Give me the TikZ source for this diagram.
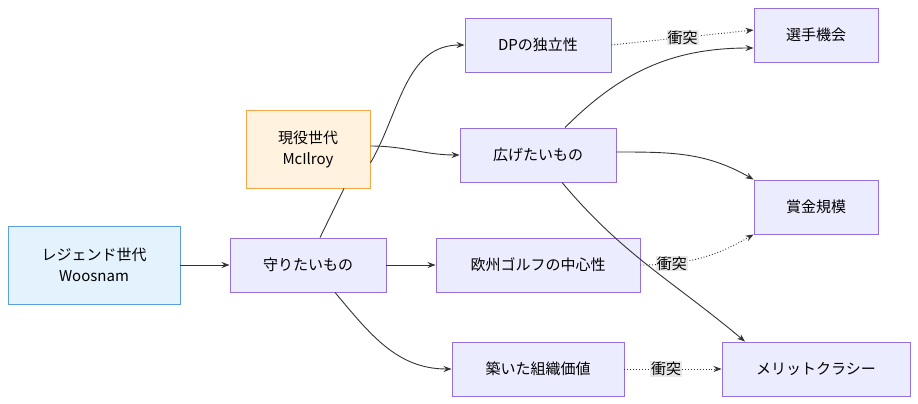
\documentclass[tikz,border=0pt]{standalone}
\usepackage{fontspec}
\setmainfont{Noto Sans CJK JP}
\usetikzlibrary{arrows.meta}
\definecolor{boxfill}{HTML}{ECECFF}
\definecolor{boxline}{HTML}{9370DB}
\definecolor{oldfill}{HTML}{E3F2FD}
\definecolor{oldline}{HTML}{5C9FE0}
\definecolor{newfill}{HTML}{FFF3E0}
\definecolor{newline}{HTML}{F5A54A}
\definecolor{edgec}{HTML}{333333}
\tikzset{
  box/.style={draw=boxline, fill=boxfill, line width=0.9pt, minimum height=54pt, align=center, font=\fontsize{15}{21}\selectfont},
  flow/.style={draw=edgec, line width=0.9pt, -{Stealth[length=8pt,width=6pt]}},
  clash/.style={flow, dotted},
  tag/.style={fill=black!9, inner sep=1pt, font=\fontsize{15}{18}\selectfont}
}
\begin{document}
\begin{tikzpicture}[x=1pt,y=-1pt]
  \useasboundingbox (0,0) rectangle (918,404);
  % generations
  \node[box, draw=oldline, fill=oldfill, minimum width=172pt, minimum height=78pt] (legend) at (94,265) {レジェンド世代\\Woosnam};
  \node[box, draw=newline, fill=newfill, minimum width=124pt, minimum height=78pt] (current) at (308,149) {現役世代\\McIlroy};
  % values
  \node[box, minimum width=156pt] (keep) at (308,265) {守りたいもの};
  \node[box, minimum width=146pt] (dp) at (538,45) {DPの独立性};
  \node[box, minimum width=156pt] (grow) at (538,155) {広げたいもの};
  \node[box, minimum width=204pt] (euro) at (538,265) {欧州ゴルフの中心性};
  \node[box, minimum width=172pt] (org) at (538,369) {築いた組織価値};
  \node[box, minimum width=124pt] (chance) at (816,35) {選手機会};
  \node[box, minimum width=124pt] (prize) at (816,207) {賞金規模};
  \node[box, minimum width=188pt] (merit) at (816,369) {メリットクラシー};
  % links
  \draw[flow] (legend) -- (keep);
  \draw[draw=edgec, line width=0.9pt] (keep.north) ++(12,0) -- ([xshift=36pt]current.south);
  \draw[flow] ([yshift=-14pt]current.east) to[out=60,in=180] (dp.west);
  \draw[flow] ([yshift=3pt]current.east) to[out=0,in=180] (grow.west);
  \draw[flow] (keep) -- (euro);
  \draw[flow] ([xshift=27pt]keep.south) to[out=-50,in=180] (org.west);
  \draw[flow] ([xshift=27pt]grow.north) to[out=45,in=180] ([yshift=-13pt]chance.west);
  \draw[flow] ([yshift=3pt]grow.east) to[out=0,in=150] (prize.north west);
  \draw[flow] ([xshift=24pt]grow.south) to[out=-50,in=140] ([xshift=-71pt]merit.north);
  \draw[clash] (dp.east) -- node[tag, pos=0.5] (tag1) {衝突} ([yshift=5pt]chance.west);
  \draw[clash] (euro.east) to[out=0,in=210] node[tag, pos=0.25] (tag2) {衝突} (prize.south west);
  \draw[clash] (org.east) -- node[tag, pos=0.43] (tag3) {衝突} (merit.west);
\end{tikzpicture}
\end{document}
